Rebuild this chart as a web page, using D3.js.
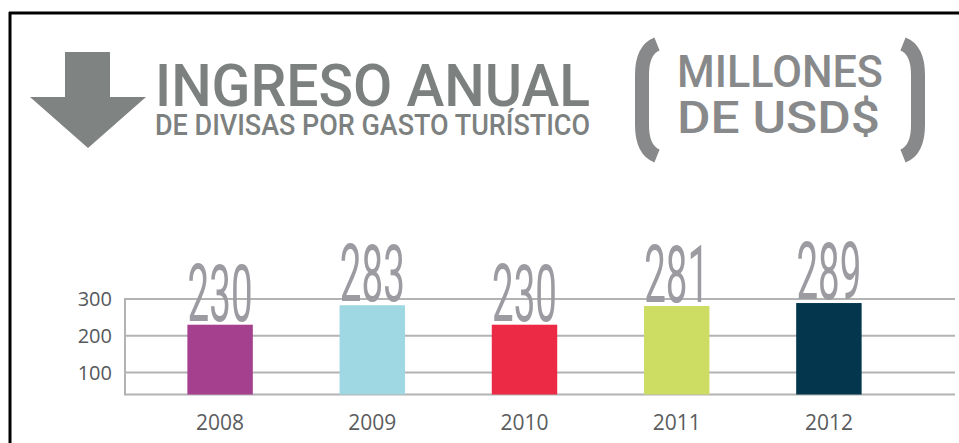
<!doctype html>
<html lang="es">
<head>
<meta charset="utf-8">
<title>Ingreso anual de divisas por gasto turístico</title>
<script src="https://cdn.jsdelivr.net/npm/d3@7"></script>
<style>
  html, body { margin: 0; padding: 0; background: #fff; }
  svg { display: block; }
</style>
</head>
<body>
<div id="chart"></div>
<script>
// datos
var years = ["2008", "2009", "2010", "2011", "2012"];
var values = [230, 283, 230, 281, 289];
var barColors = ["#a5408f", "#9fd8e2", "#ec2a45", "#cddc62", "#04364e"];
var yTicks = [100, 200, 300];

var W = 959, H = 443;
var grey = "#7c8180";

var svg = d3.select("#chart").append("svg")
  .attr("width", W).attr("height", H);

// marco
svg.append("line").attr("x1", 9).attr("x2", W).attr("y1", 13).attr("y2", 13)
  .attr("stroke", "#000").attr("stroke-width", 3);
svg.append("line").attr("x1", 10).attr("x2", 10).attr("y1", 12).attr("y2", H)
  .attr("stroke", "#000").attr("stroke-width", 3);

// flecha
svg.append("path")
  .attr("d", "M65,52 L110,52 L110,97 L146,97 L88,148 L30,97 L65,97 Z")
  .attr("fill", "#7f8381");

// titulo (un solo bloque de texto, dos renglones)
var title = svg.append("text")
  .style("font-family", "Roboto").style("font-weight", 500)
  .attr("fill", grey);
title.append("tspan").text("INGRESO ANUAL")
  .attr("x", 155).attr("y", 106)
  .attr("textLength", 435).attr("lengthAdjust", "spacingAndGlyphs")
  .style("font-size", "60px");
title.append("tspan").text("DE DIVISAS POR GASTO TURÍSTICO")
  .attr("x", 155).attr("y", 135)
  .attr("textLength", 435).attr("lengthAdjust", "spacingAndGlyphs")
  .style("font-size", "29px");

// (MILLONES DE USD$)
var unitGrey = "#88898b";
svg.append("path")
  .attr("d", "M657,44 Q642,50 642,75 L642,125 Q642,150 657,156")
  .attr("fill", "none").attr("stroke", unitGrey).attr("stroke-width", 14);
svg.append("path")
  .attr("d", "M903,44 Q918,50 918,75 L918,125 Q918,150 903,156")
  .attr("fill", "none").attr("stroke", unitGrey).attr("stroke-width", 14);
var units = svg.append("text")
  .style("font-family", "Roboto").style("font-weight", 500)
  .style("font-size", "44px").attr("fill", unitGrey);
units.append("tspan").text("MILLONES")
  .attr("x", 677).attr("y", 87)
  .attr("textLength", 206).attr("lengthAdjust", "spacingAndGlyphs");
units.append("tspan").text("DE USD$")
  .attr("x", 677).attr("y", 133)
  .attr("textLength", 203).attr("lengthAdjust", "spacingAndGlyphs");

// escalas
var x = d3.scaleBand().domain(years)
  .range([144, 905]).paddingInner(0.57).paddingOuter(0.285);
var y = d3.scaleLinear().domain([40, 300]).range([394.5, 299]);

var left = 125, right = 955;

// rejilla
svg.selectAll("line.grid").data(yTicks.concat([40])).enter().append("line")
  .attr("class", "grid")
  .attr("x1", left).attr("x2", right)
  .attr("y1", function(d) { return y(d); })
  .attr("y2", function(d) { return y(d); })
  .attr("stroke", "#b3b3b3").attr("stroke-width", 2);
svg.append("line")
  .attr("x1", left).attr("x2", left).attr("y1", y(300) - 1).attr("y2", y(40) + 1)
  .attr("stroke", "#b3b3b3").attr("stroke-width", 2);

svg.selectAll("text.tick").data(yTicks).enter().append("text")
  .attr("class", "tick")
  .attr("x", 112).attr("y", function(d) { return y(d); })
  .attr("dy", "0.36em").attr("text-anchor", "end")
  .text(function(d) { return d; })
  .style("font-family", "Open Sans").style("font-size", "20px")
  .attr("fill", "#55585b");

// barras
svg.selectAll("rect.bar").data(values).enter().append("rect")
  .attr("class", "bar")
  .attr("x", function(d, i) { return x(years[i]); })
  .attr("y", function(d) { return y(d); })
  .attr("width", x.bandwidth())
  .attr("height", function(d) { return y(40) - y(d); })
  .attr("fill", function(d, i) { return barColors[i]; });

// valores
svg.selectAll("text.value").data(values).enter().append("text")
  .attr("class", "value")
  .attr("x", function(d, i) { return x(years[i]) + x.bandwidth() / 2; })
  .attr("y", function(d) { return y(d) - 4; })
  .attr("text-anchor", "middle")
  .attr("textLength", 65).attr("lengthAdjust", "spacingAndGlyphs")
  .text(function(d) { return d; })
  .style("font-family", "Roboto").style("font-weight", 400)
  .style("font-size", "80px").attr("fill", "#9b9ba1");

// años
svg.selectAll("text.year").data(years).enter().append("text")
  .attr("class", "year")
  .attr("x", function(d) { return x(d) + x.bandwidth() / 2; })
  .attr("y", 430)
  .attr("text-anchor", "middle")
  .text(function(d) { return d; })
  .style("font-family", "Open Sans").style("font-size", "21px")
  .attr("fill", "#5a5c5e");
</script>
</body>
</html>
